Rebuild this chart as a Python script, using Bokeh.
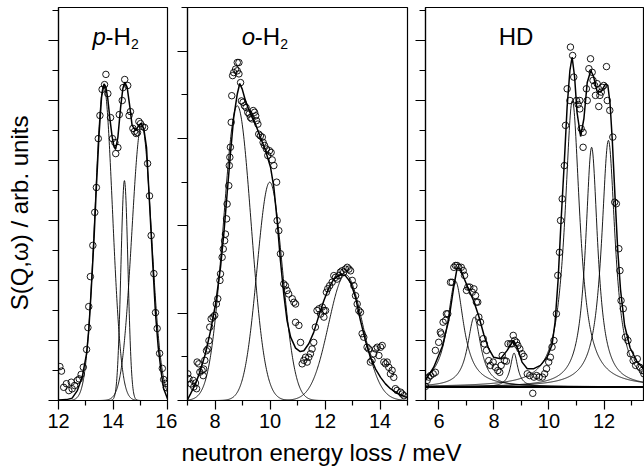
import numpy as np
from bokeh.plotting import figure
from bokeh.layouts import row, column
from bokeh.models import FixedTicker, Range1d, CustomJSTickFormatter
from bokeh.embed import file_html
from bokeh.resources import INLINE
from bokeh.core.properties import value

FONT = "Liberation Sans"

# ---------------- p-H2 ----------------
ph2_x = [12.05, 12.11, 12.19, 12.29, 12.38, 12.47, 12.50, 12.59, 12.69, 12.76, 12.83, 12.91,
         13.03, 13.08, 13.11, 13.17, 13.26, 13.33, 13.39, 13.46, 13.52, 13.60, 13.69, 13.74,
         13.81, 13.91, 13.98, 14.07, 14.10, 14.18, 14.23, 14.34, 14.37, 14.43, 14.54, 14.59,
         14.64, 14.73, 14.79, 14.85, 14.90, 14.95, 15.01, 15.08, 15.16, 15.27, 15.34, 15.40,
         15.50, 15.56, 15.62, 15.71, 15.81, 15.86, 15.93, 15.96]
ph2_y = [1.13, 0.98, 0.44, 0.56, 0.33, 0.61, 0.39, 0.50, 0.67, 0.72, 0.87, 1.11,
         1.70, 2.43, 3.13, 4.13, 5.17, 6.27, 7.10, 8.73, 9.50, 10.37, 10.53, 10.87,
         10.23, 9.43, 8.73, 8.60, 8.23, 8.43, 9.53, 10.00, 10.43, 10.70, 10.50, 9.50,
         9.63, 9.07, 8.97, 8.90, 8.93, 9.30, 9.23, 9.13, 9.10, 7.90, 6.82, 5.50,
         4.23, 2.93, 2.40, 1.57, 1.07, 0.70, 0.57, 0.43]
ph2_fit_x = [12.00, 12.30, 12.50, 12.69, 12.87, 13.03, 13.11, 13.20, 13.30, 13.39, 13.49, 13.58,
             13.67, 13.74, 13.81, 13.88, 13.97, 14.04, 14.10, 14.18, 14.28, 14.36, 14.43, 14.52,
             14.62, 14.70, 14.83, 14.95, 15.03, 15.13, 15.23, 15.31, 15.40, 15.48, 15.56, 15.66,
             15.77, 15.86, 16.00]
ph2_fit_y = [0.02, 0.03, 0.08, 0.33, 0.78, 1.56, 2.33, 3.67, 5.33, 7.11, 8.89, 10.11,
             10.55, 10.45, 10.05, 9.44, 8.78, 8.45, 8.39, 8.78, 9.78, 10.39, 10.61, 10.44,
             9.78, 9.17, 9.00, 9.17, 9.24, 9.06, 8.44, 7.11, 5.56, 4.22, 2.89, 1.78,
             0.94, 0.39, 0.06]
ph2_centers = [13.66, 14.42, 15.05]
ph2_heights = [10.5, 7.33, 9.2]
ph2_sigmas = [0.32, 0.13, 0.36]

# ---------------- o-H2 ----------------
oh2_x = [7.01, 7.05, 7.13, 7.21, 7.23, 7.29, 7.33, 7.35, 7.41, 7.45, 7.53, 7.57, 7.59, 7.63,
         7.69, 7.74, 7.78, 7.81, 7.86, 7.93, 7.99, 8.05, 8.10, 8.18, 8.20, 8.26, 8.30, 8.35,
         8.38, 8.42, 8.44, 8.50, 8.52, 8.54, 8.56, 8.59, 8.61, 8.64, 8.68, 8.75, 8.81, 8.87,
         8.81, 8.87, 8.93, 8.96, 9.02, 9.07, 9.13, 9.19, 9.24, 9.29, 9.34, 9.39, 9.44, 9.48,
         9.51, 9.56, 9.59, 9.65, 9.72, 9.75, 9.80, 9.87, 9.92, 9.98, 10.04, 10.08, 10.14, 10.24,
         10.26, 10.32, 10.38, 10.50, 10.56, 10.62, 10.68,
         10.81, 10.87, 10.93, 10.93, 11.05, 11.11, 11.17, 11.23, 11.29, 11.35, 11.41, 11.47,
         11.53, 11.59, 11.65, 11.71, 11.78, 11.84, 11.90, 11.96, 11.96, 12.02, 12.05, 12.10,
         12.17, 12.26, 12.32, 12.38, 12.44, 12.50, 12.56, 12.62, 12.68, 12.74, 12.81, 12.87,
         12.93, 12.99, 13.05, 13.11, 13.17, 13.23, 13.29, 13.35, 13.41, 13.53, 13.59, 13.65,
         13.71, 13.77, 13.84, 13.90, 13.96, 14.02, 14.08, 14.14, 14.20, 14.26, 14.32, 14.38,
         14.44, 14.50, 14.56, 14.62, 14.75, 14.81, 14.87]
oh2_y = [0.61, 0.50, 0.38, 0.46, 0.31, 0.40, 0.27, 0.88, 0.84, 0.65, 0.69, 0.57, 0.72, 0.92,
         1.14, 1.18, 1.37, 1.68, 1.87, 1.91, 1.95, 2.21, 2.33, 2.75, 2.90, 3.28, 3.47, 3.66,
         3.81, 4.16, 4.50, 4.92, 5.38, 5.57, 5.80, 6.37, 6.98, 7.44, 7.51, 7.59, 7.74, 7.74,
         7.55, 7.48, 7.28, 6.86, 6.83, 6.75, 6.71, 6.60, 6.56, 6.48, 6.45, 6.64, 6.60, 6.52,
         6.41, 6.33, 6.10, 6.06, 6.03, 5.91, 5.84, 5.76, 5.61, 5.72, 5.68, 5.51, 5.38, 5.00,
         4.12, 3.89, 3.36, 2.67, 2.63, 2.52, 2.44,
         2.33, 2.25, 2.21, 1.79, 1.72, 1.33, 0.84, 0.92, 0.99, 0.88, 0.99, 1.07,
         1.18, 1.33, 1.68, 2.06, 2.10, 1.98, 2.14, 2.06, 1.91, 2.06, 2.48, 2.56,
         2.63, 2.71, 2.86, 2.82, 2.78, 2.86, 2.94, 2.97, 2.94, 3.01, 3.05, 3.01,
         2.97, 2.75, 2.63, 2.40, 2.21, 2.06, 2.02, 1.53, 1.45, 1.22, 1.18, 0.88,
         0.92, 1.07, 1.18, 1.22, 1.03, 1.22, 1.26, 0.88, 0.84, 0.88, 0.76, 0.61,
         0.69, 0.53, 0.27, 0.23, 0.19, 0.15, 0.11]
oh2_fit_x = [7.00, 7.11, 7.29, 7.47, 7.65, 7.84, 8.02, 8.20, 8.32, 8.44, 8.56, 8.68, 8.81,
             8.90, 8.99, 9.11, 9.29, 9.47, 9.65, 9.84, 10.02, 10.14, 10.26, 10.38, 10.50,
             10.62, 10.75, 10.93, 11.10, 11.23, 11.41, 11.59, 11.78, 11.96, 12.14, 12.32,
             12.56, 12.74, 12.93, 13.11, 13.29, 13.47, 13.65, 13.84, 14.02, 14.20, 14.38,
             14.62, 14.93, 15.00]
oh2_fit_y = [0.02, 0.15, 0.38, 0.69, 1.07, 1.60, 2.21, 3.05, 3.81, 4.73, 5.64, 6.48, 7.02,
             7.26, 7.13, 6.86, 6.56, 6.33, 6.03, 5.72, 5.34, 4.88, 4.12, 3.20, 2.44,
             1.83, 1.45, 1.20, 1.12, 1.14, 1.30, 1.56, 1.95, 2.29, 2.58, 2.78,
             2.88, 2.86, 2.71, 2.36, 1.83, 1.37, 0.99, 0.72, 0.53, 0.38, 0.27,
             0.17, 0.08, 0.07]
oh2_centers = [8.81, 9.99, 12.75]
oh2_heights = [6.75, 5.0, 2.88]
oh2_sigmas = [0.5, 0.46, 0.62]

# ---------------- HD ----------------
hd_x = [5.51, 5.57, 5.63, 5.69, 5.79, 5.87, 5.87, 5.99, 6.05, 6.08, 6.15, 6.24, 6.27, 6.32,
        6.42, 6.48, 6.54, 6.60, 6.66, 6.72, 6.81, 6.88, 6.93, 7.00, 7.05, 7.12, 7.21, 7.27,
        7.33, 7.36, 7.41, 7.45, 7.51, 7.61, 7.65, 7.73, 7.81, 7.87, 7.97, 8.05, 8.14, 8.21,
        8.26, 8.30, 8.38, 8.45, 8.51, 8.60, 8.66, 8.70, 8.75, 8.82, 8.87, 8.94, 9.02, 9.09,
        9.21, 9.30, 9.41, 9.45, 9.55, 9.64, 9.76, 9.84, 9.91, 9.99, 10.05, 10.11, 10.18, 10.27,
        10.32, 10.38, 10.42, 10.48, 10.56, 10.60, 10.66, 10.76, 10.78, 10.86, 10.90, 11.00,
        11.06, 11.12, 11.12, 11.17, 11.24, 11.24, 11.36, 11.39, 11.45, 11.51, 11.57, 11.60,
        11.66, 11.69, 11.75, 11.81, 11.85, 11.90, 11.93, 11.99, 12.09, 12.12, 12.21, 12.32,
        12.39, 12.45, 12.54, 12.58, 12.62, 12.70, 12.78, 12.87, 12.96, 13.06, 13.15, 13.21,
        13.30, 13.39, 13.45]
hd_y = [0.47, 0.67, 0.78, 0.83, 0.89, 0.94, 1.67, 1.94, 2.28, 2.22, 2.61, 2.67, 2.89, 2.89,
        3.94, 3.94, 4.44, 4.50, 4.50, 4.44, 4.44, 4.33, 4.17, 3.67, 3.78, 3.78, 3.61, 3.72,
        3.50, 3.28, 3.28, 2.78, 2.61, 2.06, 1.89, 1.67, 1.33, 1.17, 1.28, 1.11, 1.00, 0.94,
        1.17, 1.50, 1.33, 1.31, 1.89, 1.89, 1.89, 2.17, 2.00, 1.94, 1.83, 1.72, 1.56, 1.47,
        0.89, 0.83, 0.24, 0.78, 0.83, 0.78, 0.78, 0.89, 1.06, 1.28, 1.44, 1.78, 2.00, 2.89,
        4.17, 4.94, 6.00, 6.72, 7.83, 9.17, 10.39, 10.00, 11.78, 11.50, 10.78, 10.00,
        9.87, 10.00, 9.72, 9.06, 8.94, 8.44, 10.39, 10.00, 11.06, 11.39, 10.94, 10.67,
        10.50, 10.17, 10.56, 9.80, 10.17, 10.28, 10.44, 10.50, 11.13, 10.00, 9.67, 8.78,
        6.61, 6.56, 5.06, 4.33, 3.33, 3.06, 2.11, 2.00, 1.56, 1.33, 1.17, 1.39,
        1.11, 1.00, 0.89]
hd_fit_x = [5.51, 5.81, 6.12, 6.36, 6.54, 6.66, 6.78, 6.90, 7.08, 7.27, 7.45, 7.63, 7.81,
            7.99, 8.24, 8.48, 8.70, 8.84, 9.02, 9.21, 9.45, 9.69, 9.93, 10.11, 10.22, 10.33,
            10.44, 10.56, 10.66, 10.76, 10.84, 10.93, 11.02, 11.15, 11.27, 11.39, 11.52,
            11.62, 11.75, 11.90, 12.05, 12.14, 12.22, 12.30, 12.40, 12.50, 12.60, 12.75,
            12.95, 13.20, 13.45]
hd_fit_y = [0.67, 1.11, 1.80, 2.70, 3.80, 4.42, 4.38, 4.10, 3.70, 3.30, 2.80, 2.20, 1.72,
            1.44, 1.39, 1.67, 2.00, 1.78, 1.28, 1.06, 1.06, 1.17, 1.44, 1.85, 2.60, 4.00,
            6.00, 8.00, 9.80, 11.00, 11.45, 10.80, 9.60, 8.80, 9.40, 10.60, 11.00,
            10.80, 10.30, 10.30, 10.55, 10.50, 9.90, 8.70, 6.80, 5.00, 3.70, 2.50,
            1.75, 1.30, 1.05]
hd_baseline = 0.45
hd_centers = [6.60, 7.28, 8.73, 10.85, 11.55, 12.16]
hd_heights = [3.53, 2.33, 1.13, 9.55, 7.99, 8.22]
hd_gammas = [0.36, 0.29, 0.16, 0.33, 0.27, 0.30]

x_title = "neutron energy loss / meV"
y_title = "S(Q,ω) / arb. units"

ROW_H = 440


def style(p, xmaj, xmin, ymaj, ymin):
    p.grid.visible = False
    p.outline_line_color = "black"
    p.outline_line_width = 1.2
    p.outline_line_alpha = 1.0
    p.xaxis.ticker = FixedTicker(ticks=xmaj, minor_ticks=xmin)
    p.yaxis.ticker = FixedTicker(ticks=ymaj, minor_ticks=ymin)
    for ax in p.axis:
        ax.axis_line_color = "black"
        ax.axis_line_width = 1.2
        ax.major_tick_line_color = "black"
        ax.major_tick_line_width = 1.2
        ax.minor_tick_line_color = "black"
        ax.minor_tick_line_width = 1.2
        ax.major_tick_in = 0
        ax.minor_tick_in = 0
    p.xaxis.major_tick_out = 9
    p.xaxis.minor_tick_out = 5
    p.yaxis.major_tick_out = 10
    p.yaxis.minor_tick_out = 6
    p.xaxis.major_label_text_font = FONT
    p.xaxis.major_label_text_font_size = "20px"
    p.xaxis.major_label_text_color = "black"
    p.xaxis.major_label_standoff = 4
    p.yaxis.formatter = CustomJSTickFormatter(code="return ''")
    p.yaxis.major_label_standoff = 0


def make_fig(width, left, right, xr, yr):
    return figure(width=width, height=ROW_H, x_range=Range1d(*xr), y_range=Range1d(*yr),
                  output_backend="svg", toolbar_location=None,
                  min_border_left=left, min_border_right=right,
                  min_border_top=7, min_border_bottom=ROW_H - 400)


def panel_title(p, x, y, parts):
    for txt, off, dy, size, st in parts:
        p.text(x=[x], y=[y], text=[txt], x_offset=off, y_offset=dy,
               text_font=value(FONT), text_font_size=value(size),
               text_font_style=value(st), text_color="black",
               text_align=value("left"), text_baseline=value("alphabetic"))


def blank_fig(w, h):
    f = figure(width=w, height=h, x_range=Range1d(0, w), y_range=Range1d(0, h),
               output_backend="svg", toolbar_location=None, min_border=0,
               x_axis_type=None, y_axis_type=None)
    f.grid.visible = False
    f.outline_line_color = None
    return f


# ---- y title strip ----
ylab = blank_fig(34, ROW_H)
ylab.text(x=[18.5], y=[ROW_H - 230], text=[y_title], angle=np.pi / 2,
          text_font=value(FONT), text_font_size=value("24px"), text_color="black",
          text_align=value("center"), text_baseline=value("middle"))

# ---- panel 1 ----
f1 = make_fig(143, 24, 10, (12, 16), (0, 13.1))
style(f1, [12, 14, 16], [13, 15], [0, 2, 4, 6, 8, 10, 12], [1, 3, 5, 7, 9, 11, 13])
gx = np.linspace(12, 16, 500)
for c, h, s in zip(ph2_centers, ph2_heights, ph2_sigmas):
    f1.line(gx, h * np.exp(-0.5 * ((gx - c) / s) ** 2), line_color="black", line_width=0.9)
f1.line(ph2_fit_x, ph2_fit_y, line_color="black", line_width=1.5)
f1.scatter(ph2_x, ph2_y, size=6.5, fill_color=None, line_color="black", line_width=0.9)
panel_title(f1, 13.25, 12.13, [("p", 0, 0, "24px", "italic"), ("-H", 13, 0, "24px", "normal"),
                                ("2", 38.5, 7, "14px", "normal")])

# ---- panel 2 ----
f2 = make_fig(238, 10, 8, (7, 15), (0, 9.0))
style(f2, [8, 10, 12, 14], [7, 9, 11, 13, 15], [0, 2, 4, 6, 8], [1, 3, 5, 7, 9])
gx = np.linspace(7, 15, 600)
for c, h, s in zip(oh2_centers, oh2_heights, oh2_sigmas):
    f2.line(gx, h * np.exp(-0.5 * ((gx - c) / s) ** 2), line_color="black", line_width=0.9)
f2.line(oh2_fit_x, oh2_fit_y, line_color="black", line_width=1.5)
f2.scatter(oh2_x, oh2_y, size=6.5, fill_color=None, line_color="black", line_width=0.9)
panel_title(f2, 8.97, 8.33, [("o", 0, 0, "24px", "italic"), ("-H", 13, 0, "24px", "normal"),
                              ("2", 38.5, 7, "14px", "normal")])

# ---- panel 3 ----
f3 = make_fig(229, 10, 1, (5.51, 13.436), (0, 13.1))
style(f3, [6, 8, 10, 12], [7, 9, 11, 13], [0, 2, 4, 6, 8, 10, 12], [1, 3, 5, 7, 9, 11, 13])
gx = np.linspace(5.51, 13.436, 700)
f3.line([5.51, 13.436], [hd_baseline, hd_baseline], line_color="black", line_width=2.2)
for c, h, g in zip(hd_centers, hd_heights, hd_gammas):
    f3.line(gx, hd_baseline + h * g ** 2 / ((gx - c) ** 2 + g ** 2), line_color="black", line_width=0.9)
f3.line(hd_fit_x, hd_fit_y, line_color="black", line_width=1.5)
f3.scatter(hd_x, hd_y, size=6.5, fill_color=None, line_color="black", line_width=0.9)
panel_title(f3, 8.17, 12.13, [("HD", 0, 0, "24px", "normal")])

# ---- shared x title strip ----
LAB_H = 466 - ROW_H
lab = blank_fig(644, LAB_H)
lab.text(x=[321], y=[LAB_H - 12], text=[x_title], text_font=value(FONT),
         text_font_size=value("24px"), text_color="black",
         text_align=value("center"), text_baseline=value("middle"))

layout = column(row(ylab, f1, f2, f3, spacing=0), lab, spacing=0)
open("out.html", "w").write(file_html(layout, INLINE))
